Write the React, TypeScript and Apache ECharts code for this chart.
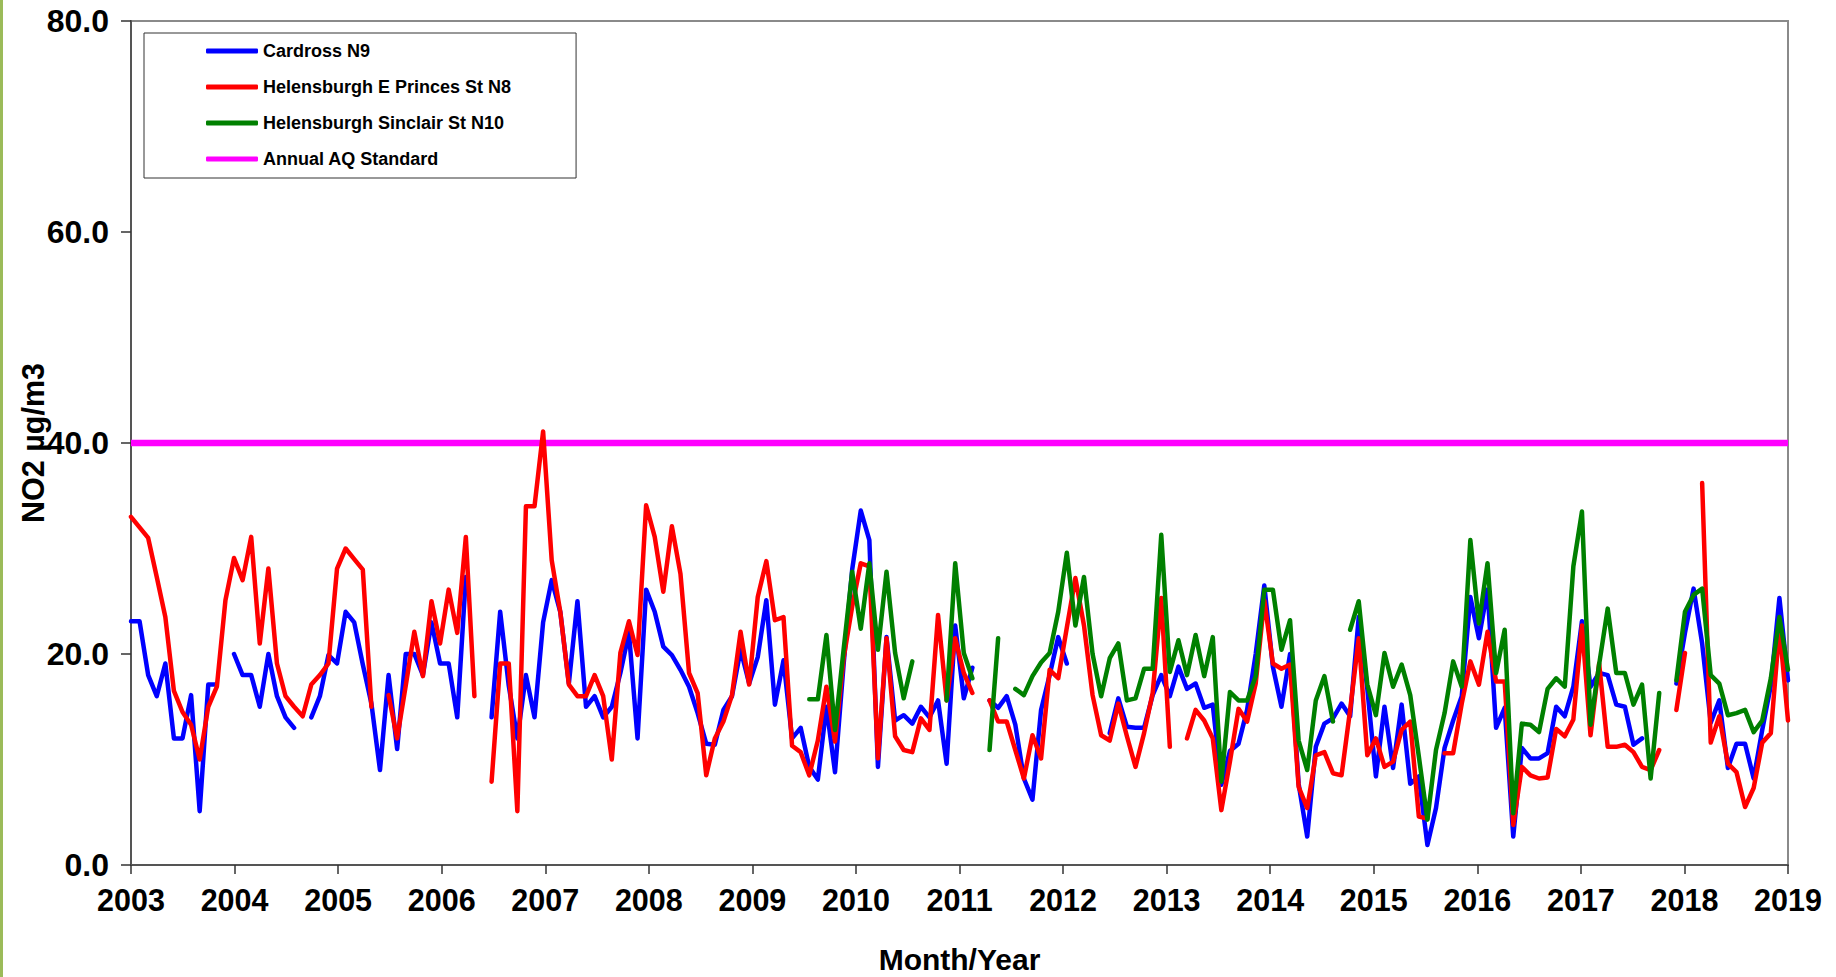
import React, { useEffect, useRef } from 'react';
import * as echarts from 'echarts';

const FONT = '"Liberation Sans", Arial, Helvetica, sans-serif';

const START_YEAR = 2003;
const END_YEAR = 2019;
const MONTH_NAMES = ['Jan', 'Feb', 'Mar', 'Apr', 'May', 'Jun', 'Jul', 'Aug', 'Sep', 'Oct', 'Nov', 'Dec'];
const AQ_STANDARD = 40;
const Y_TICKS = { min: 0, max: 80, step: 20 };

// Monthly NO2 diffusion tube results, Jan 2003 .. Feb 2019 (null = no data)
const cardrossN9: (number | null)[] = [
  23.1, 23.1, 18, 16, 19.1, 12, 12, 16.1, 5.1, 17.1, 17.1, null, // 2003
  20, 18, 18, 15, 20, 16, 14, 13, null, 14, 16, 19.9, // 2004
  19.1, 24, 23, 19, 15.3, 9, 18, 11, 20, 20, 18, 23, // 2005
  19.1, 19.1, 14, 27.3, null, null, 14, 24, 17, 12, 18, 14, // 2006
  23, 27, 24, 17.2, 25, 15, 16, 14, 15, 18.2, 22, 12, // 2007
  26.1, 24, 20.7, 19.9, 18.5, 16.9, 14.4, 11.5, 11.4, 14.7, 16, 20.4, // 2008
  17.2, 19.7, 25.1, 15.2, 19.4, 12, 13, 9.3, 8.1, 15, 8.8, 19, // 2009
  28, 33.6, 30.8, 9.3, 21.6, 13.7, 14.2, 13.4, 15, 14, 15.6, 9.6, // 2010
  22.7, 15.8, 18.7, null, 15.6, 14.9, 16, 13.3, 8.2, 6.2, 14.7, 18, // 2011
  21.6, 19.1, null, null, null, null, 12.5, 15.8, 13.1, 13, 13, 16.1, // 2012
  18, 16, 18.8, 16.7, 17.2, 14.9, 15.2, 7.6, 10.8, 11.5, 14.7, 20, // 2013
  26.5, 18.8, 15, 20, 7.7, 2.7, 11.2, 13.4, 13.9, 15.3, 14.1, 23.5, // 2014
  16.7, 8.4, 15, 9.2, 15.2, 7.7, 8.4, 1.9, 5.4, 11.1, 13.7, 16, // 2015
  25.4, 21.5, 26.1, 13, 14.9, 2.7, 11.1, 10.1, 10.1, 10.6, 15, 14.1, // 2016
  16.9, 23.1, 16.9, 18.2, 18, 15.2, 15, 11.4, 12, null, null, null, // 2017
  17.2, 22, 26.2, 21, 13.5, 15.6, 9.2, 11.5, 11.5, 8.2, 12.8, 17, // 2018
  25.3, 17.5, // 2019
];

const helensburghPrincesN8: (number | null)[] = [
  33, 32, 31, 27.3, 23.5, 16.5, 14.5, 13.3, 10, 15, 16.9, 25.1, // 2003
  29.1, 27, 31.1, 21, 28.1, 19.1, 16, 15, 14.1, 17.1, 18, 19.1, // 2004
  28.1, 30, 29, 28, 15, null, 16.1, 12, 17, 22.1, 17.9, 25, // 2005
  21, 26.1, 22, 31.1, 16, null, 7.9, 19.1, 19.1, 5.1, 34, 34, // 2006
  41.1, 28.9, 24, 17.1, 16, 16, 18, 16, 10, 20.1, 23.1, 19.9, // 2007
  34.1, 31.1, 25.9, 32.1, 27.6, 18.2, 16.3, 8.5, 12, 13.6, 16.1, 22.1, // 2008
  17.1, 25.4, 28.8, 23.2, 23.5, 11.3, 10.7, 8.5, 11.8, 16.9, 11.7, 19.6, // 2009
  24.5, 28.6, 28.3, 10.1, 21.5, 12.2, 10.9, 10.7, 13.9, 12.8, 23.7, 15.6, // 2010
  21.5, 18.2, 16.3, null, 15.6, 13.6, 13.6, 10.9, 8.2, 12.3, 10.1, 18.5, // 2011
  17.7, 22.5, 27.2, 22.7, 16.1, 12.3, 11.8, 15.3, 12.2, 9.3, 12.5, 16.3, // 2012
  25.3, 11.2, null, 12, 14.7, 13.7, 12, 5.2, 9.8, 14.8, 13.6, 17.2, // 2013
  25.1, 19.1, 18.6, 19, 7.4, 5.4, 10.4, 10.7, 8.7, 8.5, 14.7, 21.5, // 2014
  10.4, 12, 9.3, 9.8, 12.8, 13.6, 4.6, 4.4, null, 10.6, 10.6, 15.3, // 2015
  19.3, 17.1, 22.1, 17.4, 17.4, 3.8, 9.3, 8.5, 8.2, 8.3, 12.9, 12.2, // 2016
  13.8, 22.7, 12.3, 19.1, 11.2, 11.2, 11.4, 10.7, 9.3, 9.0, 10.9, null, // 2017
  14.7, 20.1, null, 36.2, 11.6, 14.1, 9.6, 8.8, 5.5, 7.3, 11.6, 12.5, // 2018
  22.5, 13.7, // 2019
];

const helensburghSinclairN10: (number | null)[] = [
  null, null, null, null, null, null, null, null, null, null, null, null, // 2003
  null, null, null, null, null, null, null, null, null, null, null, null, // 2004
  null, null, null, null, null, null, null, null, null, null, null, null, // 2005
  null, null, null, null, null, null, null, null, null, null, null, null, // 2006
  null, null, null, null, null, null, null, null, null, null, null, null, // 2007
  null, null, null, null, null, null, null, null, null, null, null, null, // 2008
  null, null, null, null, null, null, null, 15.7, 15.7, 21.8, 12.8, 20.4, // 2009
  27.8, 22.4, 28.6, 20.4, 27.8, 20.1, 15.8, 19.3, null, null, null, 15.6, // 2010
  28.6, 20.1, 17.7, null, 10.9, 21.5, null, 16.7, 16.1, 17.9, 19.2, 20.1, // 2011
  24, 29.6, 22.7, 27.3, 20, 16, 19.6, 21, 15.6, 15.8, 18.6, 18.6, // 2012
  31.3, 18.3, 21.3, 18, 21.8, 17.9, 21.6, 7.9, 16.4, 15.6, 15.6, 17.9, // 2013
  26.1, 26.1, 20.4, 23.2, 11.8, 9.0, 15.6, 17.9, 13.6, null, 22.3, 25, // 2014
  17.1, 14.2, 20.1, 16.9, 19, 16.1, 10.3, 4.3, 10.9, 14.4, 19.3, 16.9, // 2015
  30.8, 22.9, 28.6, 18.2, 22.3, 4.9, 13.4, 13.3, 12.6, 16.7, 17.7, 16.9, // 2016
  28.3, 33.5, 13.3, 19, 24.3, 18.2, 18.2, 15.2, 17.1, 8.2, 16.3, null, // 2017
  17.5, 24, 25.6, 26.2, 18, 17.2, 14.2, 14.4, 14.7, 12.6, 13.7, 17.7, // 2018
  23.5, 18.5, // 2019
];

const SERIES_NAMES = ['Cardross N9', 'Helensburgh E Princes St N8', 'Helensburgh Sinclair St N10', 'Annual AQ Standard'];
const COLORS = ['#0000ff', '#ff0000', '#008000', '#ff00ff'];

const months: string[] = [];
for (let i = 0; i < cardrossN9.length; i++) {
  months.push(`${MONTH_NAMES[i % 12]}-${String(START_YEAR + Math.floor(i / 12)).slice(2)}`);
}

const toData = (arr: (number | null)[]) => arr.map((v) => (v === null ? '-' : v));

export default function App() {
  const ref = useRef<HTMLDivElement>(null);

  useEffect(() => {
    if (!ref.current) return;
    const chart = echarts.init(ref.current, undefined, { renderer: 'svg' });

    const lineSeries = (name: string, color: string, data: (number | null)[]) => ({
      name,
      type: 'line',
      xAxisIndex: 0,
      yAxisIndex: 0,
      data: toData(data),
      color,
      showSymbol: false,
      symbol: 'none',
      connectNulls: false,
      lineStyle: { width: 4.5, color, cap: 'round', join: 'round' },
      emphasis: { disabled: true },
    });

    chart.setOption({
      animation: false,
      backgroundColor: '#ffffff',
      textStyle: { fontFamily: FONT },
      graphic: [
        { type: 'rect', left: 0, top: 0, shape: { x: 0, y: 0, width: 3, height: 977 }, style: { fill: '#9bbb59' }, silent: true },
      ],
      grid: {
        left: 131,
        right: 48,
        top: 21,
        bottom: 112,
        show: true,
        borderColor: '#8a8a8a',
        borderWidth: 2,
        backgroundColor: 'transparent',
        containLabel: false,
        outerBoundsMode: 'none',
      },
      legend: {
        orient: 'vertical',
        left: 144,
        top: 33,
        itemWidth: 52,
        itemHeight: 5,
        itemGap: 18,
        padding: [9, 65, 10, 62],
        borderColor: '#333333',
        borderWidth: 1,
        backgroundColor: '#ffffff',
        icon: 'roundRect',
        data: SERIES_NAMES,
        textStyle: { fontSize: 18, fontWeight: 'bold', color: '#000', fontFamily: FONT, lineHeight: 18 },
      },
      xAxis: [
        {
          type: 'category',
          data: months,
          boundaryGap: false,
          show: false,
        },
        {
          type: 'value',
          min: START_YEAR,
          max: END_YEAR,
          interval: 1,
          position: 'bottom',
          name: 'Month/Year',
          nameLocation: 'middle',
          nameGap: 79,
          nameMoveOverlap: false,
          nameTextStyle: { fontSize: 30, fontWeight: 'bold', color: '#000', fontFamily: FONT },
          axisLine: { show: true, lineStyle: { color: '#555555', width: 2 } },
          axisTick: { show: true, length: 9, lineStyle: { color: '#333333', width: 1.5 } },
          axisLabel: { fontSize: 30.5, fontWeight: 'bold', color: '#000', margin: 19, fontFamily: FONT, formatter: (v: number) => String(v) },
          splitLine: { show: false },
        },
      ],
      yAxis: {
        type: 'value',
        min: Y_TICKS.min,
        max: Y_TICKS.max,
        interval: Y_TICKS.step,
        name: 'NO2 µg/m3',
        nameLocation: 'middle',
        nameRotate: 90,
        nameGap: 83,
        nameMoveOverlap: false,
        nameTextStyle: { fontSize: 30.5, fontWeight: 'bold', color: '#000', fontFamily: FONT },
        axisLine: { show: true, lineStyle: { color: '#555555', width: 2 } },
        axisTick: { show: true, length: 10, lineStyle: { color: '#333333', width: 1.5 } },
        axisLabel: { fontSize: 32, fontWeight: 'bold', color: '#000', margin: 22, fontFamily: FONT, formatter: (v: number) => v.toFixed(1) },
        splitLine: { show: false },
      },
      series: [
        {
          name: SERIES_NAMES[3],
          type: 'line',
          xAxisIndex: 1,
          yAxisIndex: 0,
          data: [[START_YEAR, AQ_STANDARD], [END_YEAR, AQ_STANDARD]],
          color: COLORS[3],
          showSymbol: false,
          symbol: 'none',
          lineStyle: { width: 6.5, color: COLORS[3] },
          emphasis: { disabled: true },
        },
        lineSeries(SERIES_NAMES[0], COLORS[0], cardrossN9),
        lineSeries(SERIES_NAMES[1], COLORS[1], helensburghPrincesN8),
        lineSeries(SERIES_NAMES[2], COLORS[2], helensburghSinclairN10),
      ],
    });

    return () => chart.dispose();
  }, []);

  return (
    <div
      ref={ref}
      style={{ position: 'fixed', left: 0, top: 0, width: 1836, height: 977, background: '#fff' }}
    />
  );
}
